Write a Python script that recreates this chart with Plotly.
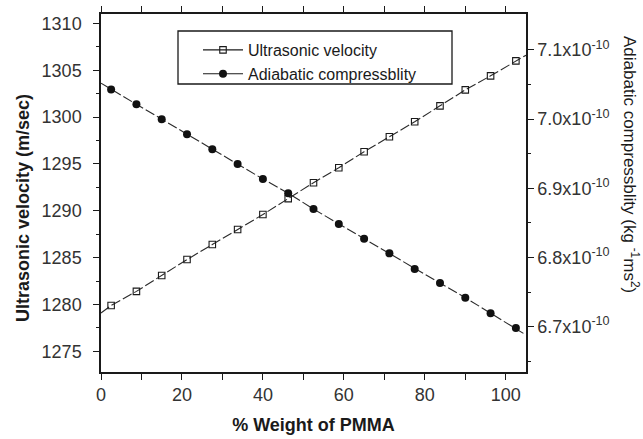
import numpy as np
import plotly.graph_objects as go

# ---- data ----
pmma_wt = [2.5, 8.75, 15.0, 21.25, 27.5, 33.75, 40.0, 46.25, 52.5, 58.75,
           65.0, 71.25, 77.5, 83.75, 90.0, 96.25, 102.5]
velocity = [1279.9, 1281.4, 1283.1, 1284.8, 1286.4, 1288.0, 1289.6, 1291.3, 1293.0,
            1294.6, 1296.3, 1297.9, 1299.5, 1301.2, 1302.9, 1304.4, 1306.0]
compress = [7.043e-10, 7.0215e-10, 7.000e-10, 6.978e-10, 6.9565e-10, 6.935e-10,
            6.9135e-10, 6.893e-10, 6.870e-10, 6.8486e-10, 6.827e-10, 6.806e-10,
            6.7835e-10, 6.763e-10, 6.742e-10, 6.7195e-10, 6.698e-10]
line_x_ends = [0.0, 105.0]
velocity_line_ends = [1279.1, 1306.6]
compress_line_ends = [7.052e-10, 6.688e-10]

x_ticks = [0, 20, 40, 60, 80, 100]
v_ticks = [1275, 1280, 1285, 1290, 1295, 1300, 1305, 1310]
c_ticks = [6.7e-10, 6.8e-10, 6.9e-10, 7.0e-10, 7.1e-10]
c_ticklabels = ["6.7x10<sup>-10</sup>", "6.8x10<sup>-10</sup>", "6.9x10<sup>-10</sup>",
                "7.0x10<sup>-10</sup>", "7.1x10<sup>-10</sup>"]

W, H = 643, 439
L, R, T, B = 101, 117, 14, 67
FONT = "Liberation Sans, Arial, sans-serif"
INK = "#1a1a1a"
LINE = "#2a2a2a"

fig = go.Figure()

# dashed connecting lines
fig.add_trace(go.Scatter(
    x=[line_x_ends[0]] + pmma_wt + [line_x_ends[1]],
    y=[velocity_line_ends[0]] + velocity + [velocity_line_ends[1]],
    mode="lines", line=dict(color=LINE, width=1.1, dash="10px,3px"),
    showlegend=False, hoverinfo="skip", yaxis="y"))
fig.add_trace(go.Scatter(
    x=[line_x_ends[0]] + pmma_wt + [line_x_ends[1]],
    y=[compress_line_ends[0]] + compress + [compress_line_ends[1]],
    mode="lines", line=dict(color=LINE, width=1.1, dash="10px,3px"),
    showlegend=False, hoverinfo="skip", yaxis="y2"))

sq_marker = dict(symbol="square-open", size=6.5, color=INK, line=dict(width=1.1, color=INK))
ci_marker = dict(symbol="circle", size=8, color="#111111", line=dict(width=0))

fig.add_trace(go.Scatter(x=pmma_wt, y=velocity, mode="markers", marker=sq_marker,
                         showlegend=False, yaxis="y"))
fig.add_trace(go.Scatter(x=pmma_wt, y=compress, mode="markers", marker=ci_marker,
                         showlegend=False, yaxis="y2"))

# legend entries
fig.add_trace(go.Scatter(x=[None], y=[None], mode="lines+markers", name="Ultrasonic velocity",
                         line=dict(color=INK, width=1.1), marker=sq_marker))
fig.add_trace(go.Scatter(x=[None], y=[None], mode="lines+markers", name="Adiabatic compressblity",
                         line=dict(color=INK, width=1.1), marker=ci_marker))

pw = W - L - R
ph = H - T - B

def px_x(x):
    return (x - L) / pw

def px_y(y):
    return (H - B - y) / ph

axis_common = dict(showline=True, linecolor=INK, linewidth=1.5, ticks="outside",
                   ticklen=6, tickwidth=1.2, tickcolor=INK, showgrid=False, zeroline=False,
                   tickfont=dict(family=FONT, size=18, color="#333333"))

fig.update_layout(
    width=W, height=H,
    margin=dict(l=L, r=R, t=T, b=B, autoexpand=False),
    paper_bgcolor="white", plot_bgcolor="white",
    font=dict(family=FONT, color=INK),
    xaxis=dict(range=[0, 105], tickvals=x_ticks, mirror="allticks", ticklabelstandoff=0,
               minor=dict(tickvals=list(np.arange(10, 105, 20)), ticklen=3, tickcolor=INK, ticks="outside"),
               title=dict(text="<b>% Weight of PMMA</b>", font=dict(family=FONT, size=18, color=INK), standoff=14),
               **axis_common),
    yaxis=dict(range=[1272.8, 1311.0], tickvals=v_ticks, ticklabelstandoff=8,
               minor=dict(tickvals=list(np.arange(1272.5, 1311, 5)), ticklen=3, tickcolor=INK, ticks="outside"),
               **axis_common),
    yaxis2=dict(range=[6.6345e-10, 7.152e-10], overlaying="y", side="right",
                tickvals=c_ticks, ticktext=c_ticklabels,
                minor=dict(tickvals=[6.65e-10, 6.75e-10, 6.85e-10, 6.95e-10, 7.05e-10], ticklen=3,
                           tickcolor=INK, ticks="outside"),
                **axis_common),
    legend=dict(x=px_x(198), y=px_y(33), xanchor="left", yanchor="top",
                bgcolor="rgba(0,0,0,0)", borderwidth=0,
                font=dict(family=FONT, size=16, color=INK), tracegroupgap=0, itemwidth=40),
    showlegend=True,
    shapes=[dict(type="rect", xref="paper", yref="paper",
                 x0=px_x(178), x1=px_x(452), y0=px_y(84), y1=px_y(31),
                 line=dict(color=INK, width=1.3), fillcolor="rgba(0,0,0,0)")],
    annotations=[
        dict(text="<b>Ultrasonic velocity (m/sec)</b>", xref="paper", yref="paper",
             x=px_x(23), y=px_y(208), textangle=-90, showarrow=False,
             font=dict(family=FONT, size=18, color=INK), xanchor="center", yanchor="middle"),
        dict(text="Adiabatic compressblity (kg <sup>-1</sup>ms<sup>2</sup>)", xref="paper", yref="paper",
             x=px_x(631), y=px_y(164), textangle=90, showarrow=False,
             font=dict(family=FONT, size=17, color=INK), xanchor="center", yanchor="middle"),
    ],
)

fig.write_html("out.html")
